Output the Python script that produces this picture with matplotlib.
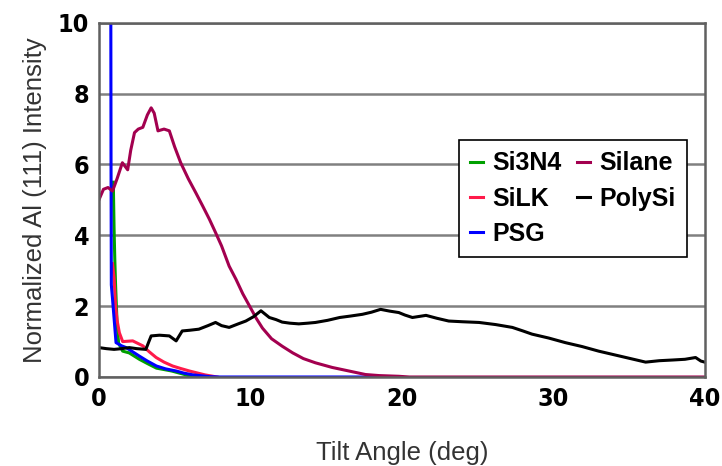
import matplotlib
matplotlib.use("Agg")
import matplotlib.pyplot as plt

# Tilt angle (deg) / normalized intensity
si3n4_x = [0.95, 1.0, 1.05, 1.1, 1.2, 1.3, 1.57, 2.0, 2.67, 3.2, 3.8, 4.8, 5.4, 6.0, 7.0]
si3n4_y = [5.5, 4.2, 3.3, 2.6, 1.5, 0.95, 0.73, 0.68, 0.5, 0.38, 0.25, 0.17, 0.1, 0.03, 0.0]

silk_x = [0.9, 1.0, 1.1, 1.2, 1.35, 1.57, 2.23, 2.9, 3.3, 3.78, 4.3, 4.87, 5.4, 5.97, 7.0, 7.8]
silk_y = [3.2, 2.8, 2.0, 1.6, 1.25, 1.0, 1.02, 0.88, 0.72, 0.55, 0.42, 0.31, 0.24, 0.17, 0.06, 0.0]

psg_x = [0.78, 0.8, 0.82, 0.9, 1.13, 1.5, 1.8, 2.2, 2.67, 3.2, 3.8, 4.4, 5.1, 5.6, 6.2, 7.3, 8.0, 20.0]
psg_y = [12.0, 6.0, 2.6, 2.2, 0.97, 0.88, 0.83, 0.72, 0.59, 0.45, 0.31, 0.23, 0.17, 0.11, 0.06, 0.01, 0.0, 0.0]

silane_x = [0.0, 0.3, 0.6, 0.9, 1.2, 1.55, 1.9, 2.1, 2.35, 2.6, 2.9, 3.2, 3.45, 3.65, 3.9,
            4.3, 4.65, 5.0, 5.4, 5.9, 6.4, 6.85, 7.3, 7.7, 8.1, 8.6, 9.05, 9.5, 9.95, 10.4,
            10.8, 11.4, 12.1, 12.8, 13.5, 14.3, 15.4, 16.5, 17.6, 18.5, 19.8, 20.5, 40.0]
silane_y = [5.0, 5.3, 5.35, 5.25, 5.6, 6.05, 5.85, 6.4, 6.9, 7.0, 7.05, 7.4, 7.6, 7.45, 6.95,
            7.0, 6.95, 6.5, 6.05, 5.6, 5.2, 4.83, 4.45, 4.08, 3.7, 3.13, 2.76, 2.35, 2.0, 1.65,
            1.38, 1.08, 0.87, 0.68, 0.52, 0.4, 0.27, 0.17, 0.07, 0.04, 0.02, 0.0, 0.0]

polysi_x = [0.0, 0.5, 1.0, 1.5, 2.0, 2.5, 3.1, 3.3, 3.45, 4.0, 4.65, 5.1, 5.5, 6.0, 6.6,
            7.2, 7.7, 8.1, 8.6, 9.2, 9.7, 10.2, 10.7, 11.25, 11.7, 12.1, 12.6, 13.2, 13.8,
            14.3, 15.1, 15.9, 16.6, 17.4, 18.0, 18.6, 19.2, 19.8, 20.2, 20.7, 21.6, 22.3,
            23.1, 24.0, 25.1, 26.2, 27.3, 28.0, 28.6, 29.7, 30.8, 31.9, 33.0, 34.0, 34.8,
            35.5, 36.1, 37.0, 37.9, 38.7, 39.4, 39.75, 40.0]
polysi_y = [0.83, 0.8, 0.78, 0.8, 0.83, 0.8, 0.78, 1.0, 1.16, 1.18, 1.16, 1.02, 1.3, 1.32, 1.35,
            1.45, 1.54, 1.45, 1.4, 1.5, 1.58, 1.7, 1.87, 1.68, 1.62, 1.55, 1.52, 1.5, 1.52,
            1.54, 1.6, 1.68, 1.72, 1.77, 1.83, 1.91, 1.86, 1.82, 1.75, 1.68, 1.74, 1.66,
            1.58, 1.56, 1.54, 1.48, 1.4, 1.3, 1.21, 1.1, 0.97, 0.86, 0.73, 0.63, 0.55,
            0.48, 0.42, 0.46, 0.48, 0.5, 0.55, 0.45, 0.42]

x_ticks = [0, 10, 20, 30, 40]
y_ticks = [0, 2, 4, 6, 8, 10]

fig = plt.figure(figsize=(7.22, 4.66), dpi=100)
ax = fig.add_axes([0.137, 0.191, 0.839, 0.760])

lw = 2.2
ax.plot(si3n4_x, si3n4_y, color="#00a000", lw=lw, label="Si3N4")
ax.plot(silk_x, silk_y, color="#ff1a4a", lw=lw, label="SiLK")
ax.plot(psg_x, psg_y, color="#0000ff", lw=lw, label="PSG")
ax.plot(silane_x, silane_y, color="#a3004f", lw=lw, label="Silane")
ax.plot(polysi_x, polysi_y, color="black", lw=lw, label="PolySi")

ax.set_xlim(0, 40)
ax.set_ylim(0, 10)
ax.set_xticks(x_ticks)
ax.set_yticks(y_ticks)
ax.tick_params(length=0, pad=7)
for lab in ax.get_xticklabels() + ax.get_yticklabels():
    lab.set_family("DejaVu Sans")
    lab.set_stretch("condensed")
    lab.set_fontweight("bold")
    lab.set_fontsize(18)
    lab.set_color("black")

ax.grid(axis="y", color="#808080", lw=1.8)
for side in ["left", "bottom", "top", "right"]:
    ax.spines[side].set_color("#606060")
    ax.spines[side].set_linewidth(1.8)

ax.set_xlabel("Tilt Angle (deg)", fontsize=18.5, color="#333333",
              family="Liberation Sans", labelpad=22)
ax.set_ylabel("Normalized Al (111) Intensity", fontsize=18.5, color="#333333",
              family="Liberation Sans", labelpad=8)

leg = ax.legend(ncol=2, loc="upper left", bbox_to_anchor=(459 / 722, 1 - 140 / 466),
                bbox_transform=fig.transFigure, frameon=True, fancybox=False,
                prop={"family": "Liberation Sans", "weight": "bold", "size": 18},
                handlelength=0.5, handletextpad=0.4, columnspacing=0.6,
                labelspacing=0.45, borderpad=0.45, borderaxespad=0)
leg.get_frame().set_edgecolor("black")
leg.get_frame().set_linewidth(1.2)
leg.get_frame().set_alpha(1)

fig.savefig("out.png", dpi=100)
